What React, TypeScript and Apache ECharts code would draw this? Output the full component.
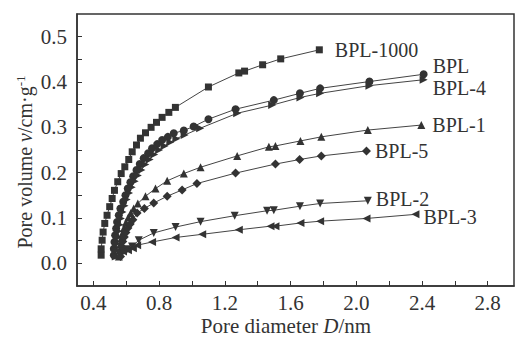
import React, { useEffect, useRef } from 'react';
import * as echarts from 'echarts';

const FONT = 'Liberation Serif';
const INK = '#333';

const xTickValues = [0.4, 0.6, 0.8, 1.0, 1.2, 1.4, 1.6, 1.8, 2.0, 2.2, 2.4, 2.6, 2.8];
const xLabelValues = [0.4, 0.8, 1.2, 1.6, 2.0, 2.4, 2.8];
const yTickValues = [0, 0.05, 0.1, 0.15, 0.2, 0.25, 0.3, 0.35, 0.4, 0.45, 0.5];
const yLabelValues = [0, 0.1, 0.2, 0.3, 0.4, 0.5];

const bpl1000X = [0.447, 0.447, 0.453, 0.459, 0.469, 0.483, 0.499, 0.514, 0.528, 0.548, 0.569, 0.591, 0.615, 0.636, 0.662, 0.686, 0.717, 0.751, 0.784, 0.818, 0.859, 0.899, 1.10, 1.285, 1.32, 1.43, 1.54, 1.775];
const bpl1000Y = [0.018, 0.032, 0.051, 0.069, 0.088, 0.106, 0.125, 0.143, 0.161, 0.180, 0.198, 0.213, 0.229, 0.246, 0.261, 0.276, 0.288, 0.300, 0.311, 0.322, 0.333, 0.344, 0.389, 0.420, 0.424, 0.438, 0.451, 0.471];

const bplX = [0.524, 0.524, 0.528, 0.532, 0.538, 0.544, 0.554, 0.564, 0.581, 0.595, 0.609, 0.625, 0.642, 0.662, 0.682, 0.706, 0.733, 0.757, 0.788, 0.818, 0.853, 0.889, 0.95, 1.01, 1.10, 1.265, 1.498, 1.657, 1.78, 2.08, 2.41];
const bplY = [0.018, 0.032, 0.047, 0.062, 0.077, 0.091, 0.106, 0.121, 0.136, 0.150, 0.165, 0.179, 0.192, 0.206, 0.219, 0.232, 0.243, 0.254, 0.263, 0.272, 0.279, 0.287, 0.293, 0.302, 0.318, 0.340, 0.360, 0.375, 0.386, 0.401, 0.417];

const bpl4X = [0.536, 0.537, 0.541, 0.546, 0.552, 0.559, 0.567, 0.577, 0.589, 0.602, 0.617, 0.633, 0.651, 0.670, 0.692, 0.716, 0.742, 0.770, 0.800, 0.833, 0.868, 0.905, 0.955, 1.05, 1.275, 1.488, 1.66, 1.78, 2.08, 2.41];
const bpl4Y = [0.015, 0.029, 0.043, 0.057, 0.071, 0.085, 0.099, 0.113, 0.127, 0.141, 0.155, 0.168, 0.181, 0.194, 0.206, 0.218, 0.229, 0.240, 0.250, 0.259, 0.267, 0.275, 0.283, 0.298, 0.331, 0.349, 0.366, 0.375, 0.392, 0.405];

const bpl1X = [0.555, 0.557, 0.562, 0.568, 0.576, 0.586, 0.598, 0.612, 0.627, 0.645, 0.670, 0.717, 0.778, 0.849, 0.95, 1.052, 1.275, 1.468, 1.508, 1.66, 1.787, 2.07, 2.396];
const bpl1Y = [0.015, 0.028, 0.041, 0.054, 0.066, 0.078, 0.090, 0.101, 0.111, 0.121, 0.132, 0.148, 0.165, 0.182, 0.198, 0.212, 0.237, 0.257, 0.259, 0.270, 0.279, 0.294, 0.305];

const bpl5X = [0.565, 0.567, 0.572, 0.579, 0.588, 0.598, 0.610, 0.624, 0.640, 0.666, 0.71, 0.767, 0.849, 0.94, 1.03, 1.265, 1.508, 1.655, 1.787, 2.062];
const bpl5Y = [0.015, 0.026, 0.037, 0.048, 0.058, 0.068, 0.078, 0.087, 0.096, 0.111, 0.121, 0.133, 0.148, 0.162, 0.176, 0.199, 0.219, 0.229, 0.237, 0.248];

const bpl2X = [0.58, 0.605, 0.635, 0.676, 0.767, 0.90, 1.052, 1.26, 1.457, 1.498, 1.657, 1.78, 2.07];
const bpl2Y = [0.026, 0.031, 0.037, 0.051, 0.067, 0.080, 0.092, 0.105, 0.116, 0.117, 0.126, 0.132, 0.138];

const bpl3X = [0.58, 0.61, 0.64, 0.666, 0.757, 0.90, 1.062, 1.285, 1.478, 1.508, 1.66, 1.78, 2.062, 2.36];
const bpl3Y = [0.026, 0.029, 0.033, 0.040, 0.047, 0.057, 0.064, 0.074, 0.082, 0.082, 0.089, 0.093, 0.099, 0.108];

type Spec = {
  name: string;
  xs: number[];
  ys: number[];
  symbol: string;
  size: number;
  rotate: number;
  dist: number;
  dy: number;
};

const specs: Spec[] = [
  { name: 'BPL-1000', xs: bpl1000X, ys: bpl1000Y, symbol: 'rect', size: 7, rotate: 0, dist: 12, dy: 0 },
  { name: 'BPL', xs: bplX, ys: bplY, symbol: 'circle', size: 8, rotate: 0, dist: 5, dy: -8 },
  { name: 'BPL-4', xs: bpl4X, ys: bpl4Y, symbol: 'triangle', size: 8, rotate: -90, dist: 5, dy: 8 },
  { name: 'BPL-1', xs: bpl1X, ys: bpl1Y, symbol: 'triangle', size: 8, rotate: 0, dist: 7, dy: 0 },
  { name: 'BPL-5', xs: bpl5X, ys: bpl5Y, symbol: 'diamond', size: 9, rotate: 0, dist: 4, dy: 0 },
  { name: 'BPL-2', xs: bpl2X, ys: bpl2Y, symbol: 'triangle', size: 8, rotate: 180, dist: 4, dy: -2 },
  { name: 'BPL-3', xs: bpl3X, ys: bpl3Y, symbol: 'triangle', size: 8, rotate: 90, dist: 4, dy: 3 },
];

const labelStyle = { fontFamily: FONT, fontSize: 20, lineHeight: 17, color: INK };

function buildSeries(s: Spec) {
  const data = s.xs.map((x, i) => {
    if (i === s.xs.length - 1) {
      return {
        value: [x, s.ys[i]],
        label: {
          show: true,
          position: 'right',
          distance: s.dist,
          offset: [0, s.dy],
          formatter: s.name,
          ...labelStyle,
        },
      };
    }
    return [x, s.ys[i]];
  });
  return {
    type: 'line',
    name: s.name,
    data,
    symbol: s.symbol,
    symbolSize: s.size,
    symbolRotate: s.rotate,
    showAllSymbol: true,
    label: { show: false, ...labelStyle },
    lineStyle: { color: '#444', width: 1 },
    itemStyle: { color: INK, borderWidth: 0 },
    emphasis: { disabled: true },
  };
}

const richBase = { fontFamily: FONT, fontSize: 21, fill: INK, color: INK };

const css = `#root svg text, #root svg tspan { font-family: 'Liberation Serif', serif !important; }`;

export default function App() {
  const ref = useRef<HTMLDivElement>(null);
  useEffect(() => {
    const chart = echarts.init(ref.current!, null, { renderer: 'svg' });
    chart.setOption({
      animation: false,
      backgroundColor: '#fff',
      textStyle: { fontFamily: FONT },
      grid: {
        left: 77,
        right: 4,
        top: 14,
        bottom: 52,
        show: true,
        borderColor: INK,
        borderWidth: 1.5,
        containLabel: false,
        outerBoundsMode: 'none',
      },
      xAxis: {
        type: 'value',
        min: 0.3,
        max: 2.96,
        axisLine: { show: true, onZero: false, lineStyle: { color: INK, width: 1.5 } },
        axisTick: { show: true, inside: true, length: 5, customValues: xTickValues, lineStyle: { color: INK } },
        axisLabel: {
          customValues: xLabelValues,
          formatter: (v: number) => v.toFixed(1),
          fontFamily: FONT,
          fontSize: 21,
          color: INK,
          margin: 6,
        },
        splitLine: { show: false },
      },
      yAxis: {
        type: 'value',
        min: -0.05,
        max: 0.55,
        axisLine: { show: true, onZero: false, lineStyle: { color: INK, width: 1.5 } },
        axisTick: { show: true, inside: true, length: 5, customValues: yTickValues, lineStyle: { color: INK } },
        axisLabel: {
          customValues: yLabelValues,
          formatter: (v: number) => v.toFixed(1),
          fontFamily: FONT,
          fontSize: 21,
          color: INK,
          margin: 10,
        },
        splitLine: { show: false },
      },
      graphic: [
        {
          type: 'text',
          x: 25,
          y: 162,
          rotation: Math.PI / 2,
          style: {
            text: '{n|Pore volume }{i|v}{n|/cm·g}{s|-1}',
            align: 'center',
            verticalAlign: 'middle',
            rich: {
              n: { ...richBase, fontSize: 20 },
              i: { ...richBase, fontSize: 20, fontStyle: 'italic' },
              s: { ...richBase, fontSize: 13, verticalAlign: 'bottom', padding: [0, 0, 10, 0] },
            },
          },
        },
        {
          type: 'text',
          x: 286,
          y: 326,
          style: {
            text: '{n|Pore diameter }{i|D}{n|/nm}',
            align: 'center',
            verticalAlign: 'middle',
            rich: {
              n: { ...richBase },
              i: { ...richBase, fontStyle: 'italic' },
            },
          },
        },
      ],
      series: specs.map(buildSeries),
    });
    return () => chart.dispose();
  }, []);
  return (
    <>
      <style>{css}</style>
      <div ref={ref} style={{ position: 'fixed', left: 0, top: 0, width: 518, height: 338 }} />
    </>
  );
}
